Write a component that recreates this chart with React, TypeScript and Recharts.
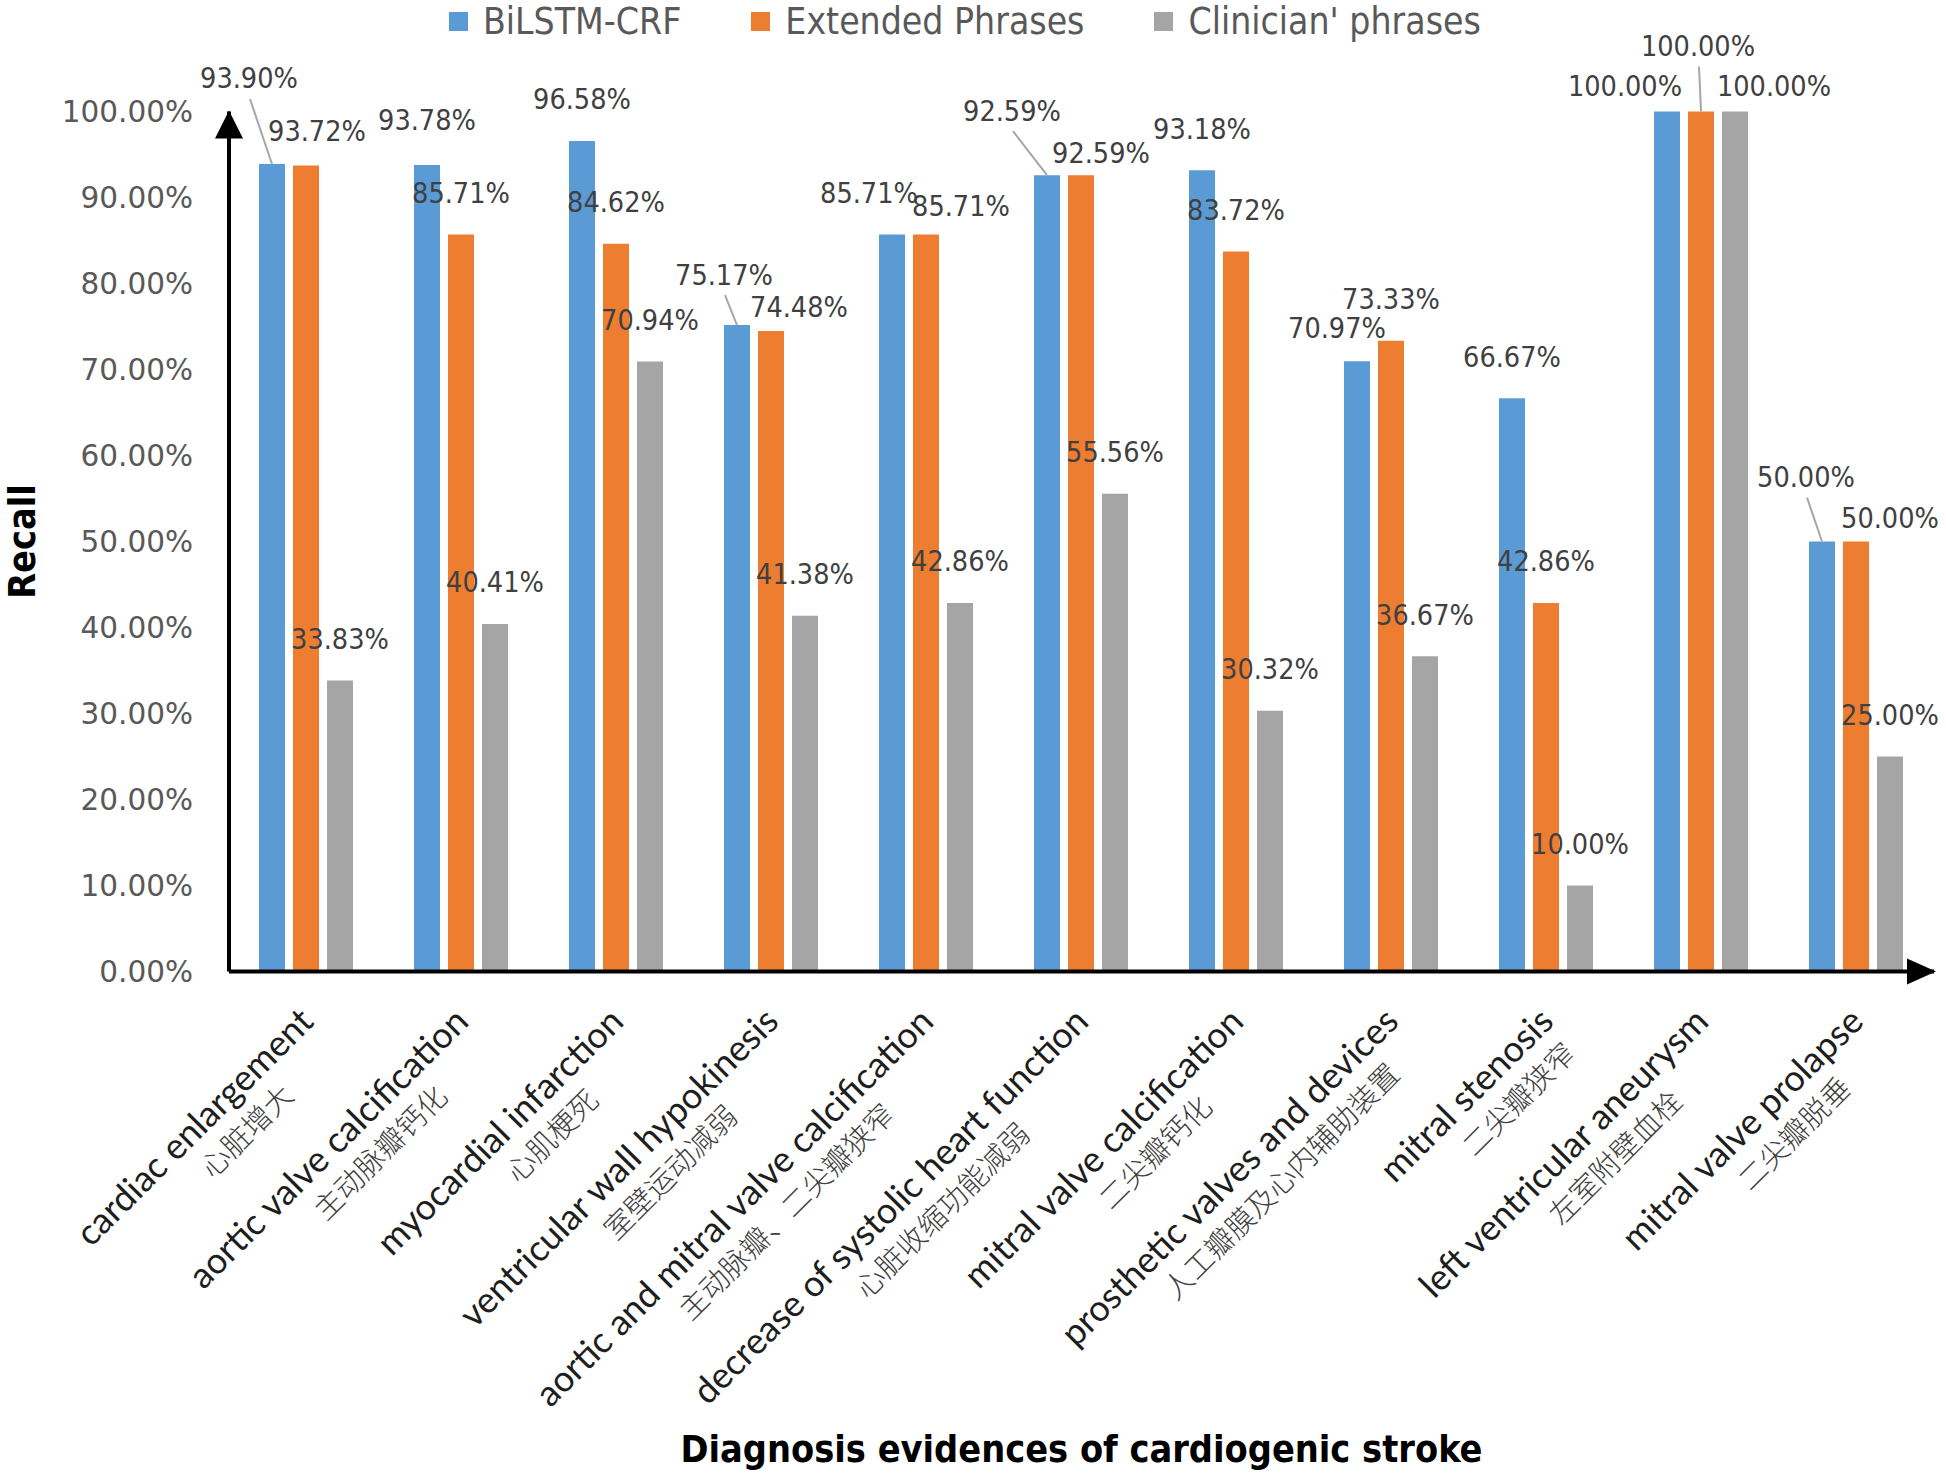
import { BarChart, Bar, XAxis, YAxis, LabelList, Customized } from "recharts";

const categories = [
  "cardiac enlargement",
  "aortic valve calcification",
  "myocardial infarction",
  "ventricular wall hypokinesis",
  "aortic and mitral valve calcification",
  "decrease of systolic heart function",
  "mitral valve calcification",
  "prosthetic valves and devices",
  "mitral stenosis",
  "left ventricular aneurysm",
  "mitral valve prolapse",
];
const categoriesZh = [
  "心脏增大",
  "主动脉瓣钙化",
  "心肌梗死",
  "室壁运动减弱",
  "主动脉瓣、二尖瓣狭窄",
  "心脏收缩功能减弱",
  "二尖瓣钙化",
  "人工瓣膜及心内辅助装置",
  "二尖瓣狭窄",
  "左室附壁血栓",
  "二尖瓣脱垂",
];

const bilstm = [93.9, 93.78, 96.58, 75.17, 85.71, 92.59, 93.18, 70.97, 66.67, 100, 50];
const extended = [93.72, 85.71, 84.62, 74.48, 85.71, 92.59, 83.72, 73.33, 42.86, 100, 50];
const clinician = [33.83, 40.41, 70.94, 41.38, 42.86, 55.56, 30.32, 36.67, 10, 100, 25];

const yTicks = [0, 10, 20, 30, 40, 50, 60, 70, 80, 90, 100];

const series = [
  { key: "bilstm", name: "BiLSTM-CRF", color: "#5b9bd5" },
  { key: "extended", name: "Extended Phrases", color: "#ed7d31" },
  { key: "clinician", name: "Clinician' phrases", color: "#a5a5a5" },
];

// hand-placed label nudges (px), like the moved labels in the original figure
const labelShift: Record<string, [number, number][]> = {
  bilstm: [[-23, -44], [0, -3], [0, 0], [-13, -9], [-23, 0], [-35, -23], [0, 0], [-20, 8], [0, 0], [-42, 16], [-16, -23]],
  extended: [[11, 7], [0, 0], [0, 0], [28, 18], [35, 13], [20, 19], [0, 0], [0, 0], [0, 0], [-3, -24], [34, 18]],
  clinician: [[0, 0], [0, 0], [0, 0], [0, 0], [0, 0], [0, 0], [0, 0], [0, 0], [0, 0], [39, 16], [0, 0]],
};
const leaders: Record<string, number[]> = {
  bilstm: [0, 3, 5, 10],
  extended: [9],
  clinician: [],
};

const data = categories.map((name, i) => ({
  name,
  bilstm: bilstm[i],
  extended: extended[i],
  clinician: clinician[i],
}));

const W = 1946;
const H = 1478;
const PLOT_LEFT = 229;
const PLOT_TOP = 111.5;
const PLOT_RIGHT = 1934;
const PLOT_BOTTOM = 971.5;

const COND = "'DejaVu Sans Condensed', 'DejaVu Sans', sans-serif";
const EN_FONT = "Lato";
const EN_SIZE = 36;

let measureCtx: CanvasRenderingContext2D | null = null;
function textWidth(s: string, font: string) {
  if (!measureCtx) measureCtx = document.createElement("canvas").getContext("2d");
  if (!measureCtx) return s.length * EN_SIZE * 0.45;
  measureCtx.font = font;
  return measureCtx.measureText(s).width;
}

function CategoryTick(props: any) {
  const { x, y, payload } = props;
  const i = categories.indexOf(payload.value);
  const en = payload.value as string;
  const w = textWidth(en, `${EN_SIZE}px ${EN_FONT}`);
  return (
    <g transform={`translate(${x + 9},${y + 52}) rotate(-45)`}>
      <text x={0} y={0} textAnchor="end" fill="#1e1e1e" fontFamily={EN_FONT} fontSize={EN_SIZE}>
        {en}
      </text>
      <text
        x={-w / 2 + 34}
        y={38}
        textAnchor="middle"
        fill="#404040"
        fontFamily="'Noto Sans CJK SC'"
        fontWeight={300}
        fontSize={29}
      >
        {categoriesZh[i]}
      </text>
    </g>
  );
}

function makeLabel(key: string) {
  return (props: any) => {
    const { x, y, width, value, index } = props;
    const bx = Number(x) + Number(width) / 2;
    const by = Number(y);
    const [dx, dy] = labelShift[key][index];
    const cx = bx + dx;
    const cy = by - 41 + dy;
    return (
      <g>
        {leaders[key].includes(index) && (
          <line x1={cx + 1} y1={cy + 20} x2={bx} y2={by} stroke="#a6a6a6" strokeWidth={2} />
        )}
        <text
          x={cx}
          y={cy}
          textAnchor="middle"
          dominantBaseline="central"
          fill="#404040"
          fontFamily={COND}
          fontSize={28.5}
        >
          {Number(value).toFixed(2)}%
        </text>
      </g>
    );
  };
}

function Arrows() {
  return (
    <g>
      <polygon
        points={`${PLOT_LEFT},${PLOT_TOP - 1} ${PLOT_LEFT - 14},${PLOT_TOP + 27} ${PLOT_LEFT + 14},${PLOT_TOP + 27}`}
        fill="#000"
      />
      <polygon
        points={`${PLOT_RIGHT + 2},${PLOT_BOTTOM} ${PLOT_RIGHT - 27},${PLOT_BOTTOM - 13} ${PLOT_RIGHT - 27},${PLOT_BOTTOM + 13}`}
        fill="#000"
      />
    </g>
  );
}

function LegendBox() {
  return (
    <div
      style={{
        position: "absolute",
        top: 0,
        left: 0,
        display: "flex",
        alignItems: "center",
        paddingLeft: 449,
        height: 42,
        fontFamily: COND,
        fontSize: 37,
        color: "#595959",
        whiteSpace: "nowrap",
        zIndex: 1,
      }}
    >
      {series.map((s) => (
        <div key={s.key} style={{ display: "flex", alignItems: "center", marginRight: 70 }}>
          <span style={{ width: 19, height: 19, background: s.color, marginRight: 15, display: "inline-block" }} />
          <span>{s.name}</span>
        </div>
      ))}
    </div>
  );
}

export default function App() {
  return (
    <div style={{ width: W, height: H, background: "#fff", position: "relative" }}>
      <style>{"body{margin:0}"}</style>
      <LegendBox />
      <BarChart
        width={W}
        height={H}
        data={data}
        margin={{ top: PLOT_TOP, right: W - PLOT_RIGHT, bottom: 0, left: 0 }}
        barCategoryGap={30}
        barGap={8}
      >
        <XAxis
          dataKey="name"
          interval={0}
          height={H - PLOT_BOTTOM}
          tickSize={0}
          tickMargin={0}
          tickLine={false}
          axisLine={{ stroke: "#000", strokeWidth: 4 }}
          tick={<CategoryTick />}
          label={{
            content: (p: any) => {
              const vb = p.viewBox || { x: PLOT_LEFT, y: PLOT_BOTTOM, width: PLOT_RIGHT - PLOT_LEFT };
              return (
                <text
                  x={vb.x + vb.width / 2}
                  y={vb.y + 477}
                  textAnchor="middle"
                  dominantBaseline="central"
                  fontFamily={COND}
                  fontWeight="bold"
                  fontSize={37.5}
                  fill="#000"
                >
                  Diagnosis evidences of cardiogenic stroke
                </text>
              );
            },
          }}
        />
        <YAxis
          width={PLOT_LEFT}
          domain={[0, 100]}
          ticks={yTicks}
          interval={0}
          tickSize={0}
          tickMargin={36}
          tickLine={false}
          axisLine={{ stroke: "#000", strokeWidth: 4 }}
          tickFormatter={(v: number) => `${v.toFixed(2)}%`}
          tick={{ fill: "#595959", fontSize: 29.5, fontFamily: "'DejaVu Sans', sans-serif" }}
          label={{
            content: () => (
              <text
                x={22}
                y={(PLOT_TOP + PLOT_BOTTOM) / 2}
                transform={`rotate(-90 22 ${(PLOT_TOP + PLOT_BOTTOM) / 2})`}
                textAnchor="middle"
                dominantBaseline="central"
                fontFamily={COND}
                fontWeight="bold"
                fontSize={37.5}
                fill="#000"
              >
                Recall
              </text>
            ),
          }}
        />
        {series.map((s) => (
          <Bar key={s.key} dataKey={s.key} name={s.name} fill={s.color} isAnimationActive={false}>
            <LabelList dataKey={s.key} content={makeLabel(s.key)} />
          </Bar>
        ))}
        <Customized component={Arrows} />
      </BarChart>
    </div>
  );
}
